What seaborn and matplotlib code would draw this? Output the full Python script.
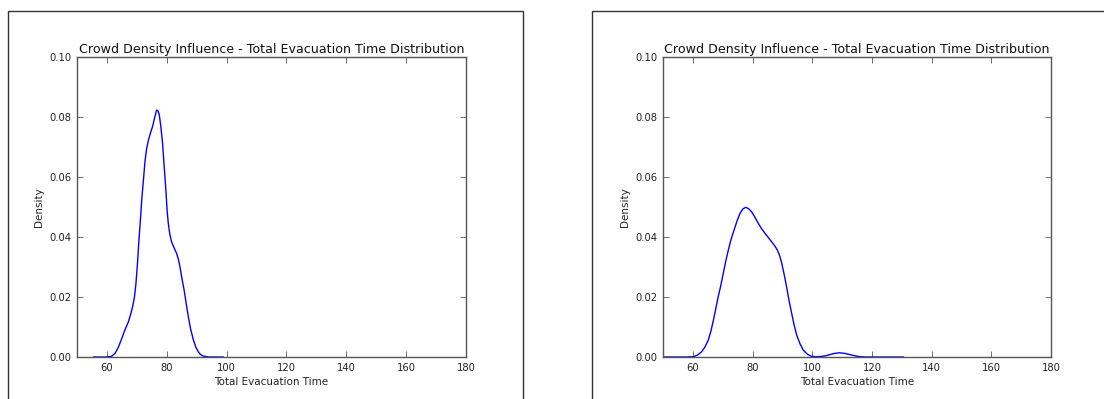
import matplotlib
matplotlib.use("Agg")
import matplotlib.pyplot as plt
from matplotlib.patches import Rectangle
import seaborn as sns

# ---- data (KDE curve points) ----
left_time = [55.5, 60.0, 61.5, 62.7, 63.8, 64.9, 66.0, 67.2, 68.0, 68.6, 69.2, 69.7,
             70.2, 70.7, 71.2, 71.6, 72.2, 72.7, 73.2, 73.8, 74.5, 75.3, 76.0, 76.6,
             77.1, 77.5, 78.0, 78.6, 79.1, 79.7, 80.1, 80.5, 81.0, 81.6, 82.4, 83.3,
             83.9, 84.4, 85.1, 85.8, 86.5, 87.2, 88.0, 88.9, 89.7, 90.5, 91.3, 92.2,
             94.0, 98.9]
left_density = [0.0, 0.0, 0.0002, 0.0012, 0.0032, 0.006, 0.009, 0.0118, 0.0145, 0.0168,
                0.020, 0.0245, 0.031, 0.039, 0.0458, 0.052, 0.059, 0.065, 0.069, 0.072,
                0.0745, 0.077, 0.080, 0.0823, 0.0820, 0.0807, 0.0770, 0.0712, 0.064,
                0.0557, 0.049, 0.0446, 0.041, 0.0384, 0.0365, 0.0345, 0.0325, 0.0301,
                0.026, 0.0223, 0.0178, 0.0134, 0.0092, 0.0057, 0.0033, 0.0018, 0.0008,
                0.0003, 0.0, 0.0]

right_time = [45.0, 58.0, 60.1, 61.5, 63.0, 64.1, 65.2, 66.1, 66.9, 67.7, 68.5, 69.4,
              70.2, 71.0, 71.9, 72.8, 73.8, 74.8, 75.8, 76.8, 77.8, 78.7, 79.7, 80.8,
              81.9, 83.0, 84.2, 85.3, 86.4, 87.4, 88.3, 89.1, 89.8, 90.6, 91.4, 92.2,
              93.1, 93.9, 94.8, 95.9, 97.0, 98.4, 99.8, 101.5, 103.1, 104.5, 105.9,
              107.5, 109.2, 110.9, 112.6, 114.3, 116.0, 118.0, 130.6]
right_density = [0.0, 0.0, 0.0001, 0.0006, 0.0018, 0.0034, 0.0057, 0.0088, 0.0123,
                 0.0162, 0.0201, 0.024, 0.0279, 0.0318, 0.0357, 0.0392, 0.0423, 0.0453,
                 0.0479, 0.0494, 0.0499, 0.0494, 0.0484, 0.0466, 0.0446, 0.0428, 0.0412,
                 0.0398, 0.0384, 0.0371, 0.0357, 0.0337, 0.0312, 0.0275, 0.0234, 0.019,
                 0.0146, 0.0108, 0.0073, 0.0044, 0.0023, 0.0009, 0.0002, 0.0001, 0.0002,
                 0.0004, 0.0008, 0.0012, 0.0014, 0.0012, 0.0008, 0.0004, 0.0001, 0.0,
                 0.0]

title = "Crowd Density Influence - Total Evacuation Time Distribution"
xlabel = "Total Evacuation Time"
ylabel = "Density"
xticks = [60, 80, 100, 120, 140, 160, 180]
yticks = [0.00, 0.02, 0.04, 0.06, 0.08, 0.10]

sns.set_theme(style="white")
plt.rcParams["font.family"] = ["DejaVu Sans"]

W, H = 1104, 399
fig = plt.figure(figsize=(W / 100, H / 100), dpi=100)
fig.patch.set_facecolor("white")

def px_rect(x0, y0, x1, y1):
    return [x0 / W, 1 - y1 / H, (x1 - x0) / W, (y1 - y0) / H]

# figure frames
for (x0, x1) in [(8, 523), (592, 1120)]:
    fig.patches.append(Rectangle((x0 / W, -0.1), (x1 - x0) / W, 1 - 11.5 / H + 0.1,
                                 transform=fig.transFigure, fill=False,
                                 edgecolor="#333333", linewidth=1.0))

panels = [((77, 57, 466, 357), left_time, left_density),
          ((663, 57, 1051, 357), right_time, right_density)]

for (box, xs, ys) in panels:
    ax = fig.add_axes(px_rect(*box))
    sns.lineplot(x=xs, y=ys, ax=ax, color="#0000ff", linewidth=1.0)
    ax.set_xlim(50, 180)
    ax.set_ylim(0, 0.10)
    ax.set_xticks(xticks)
    ax.set_yticks(yticks)
    ax.set_yticklabels([f"{v:.2f}" for v in yticks])
    ax.tick_params(direction="in", length=4, width=0.6, color="#555555",
                   labelsize=7.2, labelcolor="#222222", pad=4,
                   top=True, right=True, bottom=True, left=True)
    for s in ax.spines.values():
        s.set_color("#555555")
        s.set_linewidth(1.0)
    ax.set_title(title, fontsize=9.1, color="#111111", pad=3)
    ax.set_xlabel(xlabel, fontsize=7.5, color="#222222", labelpad=3)
    ax.set_ylabel(ylabel, fontsize=7.5, color="#222222", labelpad=4)
    ax.set_facecolor("white")
    ax.grid(False)

fig.savefig("out.png", dpi=100)
